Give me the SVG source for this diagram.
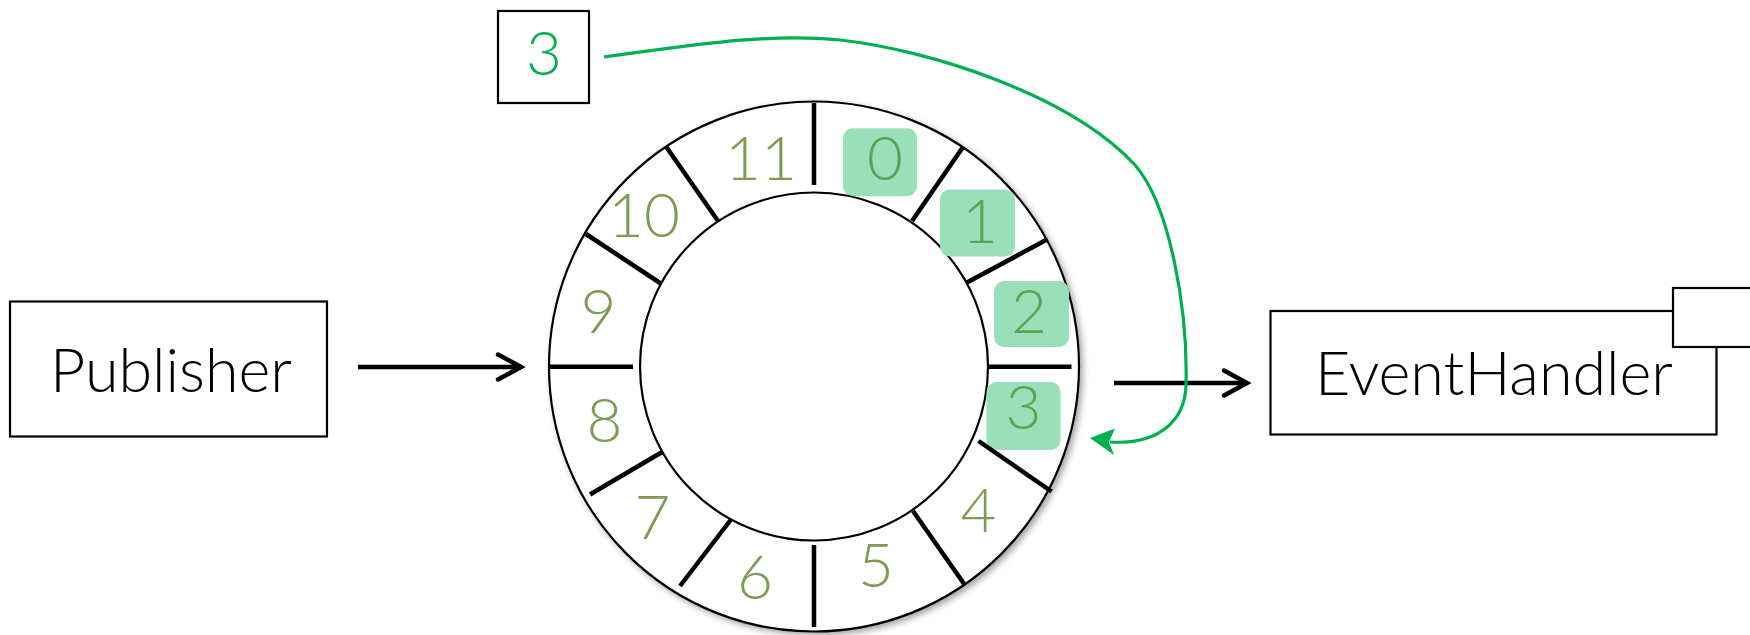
<svg xmlns="http://www.w3.org/2000/svg" width="1750" height="635" viewBox="0 0 1750 635">
<style>
.box{fill:#fff;stroke:#000;stroke-width:2.2}
.lbl{font-family:Lato,"Open Sans","Liberation Sans",sans-serif;font-weight:300;font-size:61px;fill:#000;text-anchor:middle}
.num{font-family:Lato,"Open Sans","Liberation Sans",sans-serif;font-weight:300;font-size:62px;fill:#7F9A55;text-anchor:middle}
.hnum{fill:#55A555}
.hl{fill:#99DFB9}
.div{stroke:#000;stroke-width:4.5}
.arr{stroke:#000;stroke-width:4.5;fill:none}
</style>
<defs>
<marker id="chev" markerUnits="userSpaceOnUse" markerWidth="40" markerHeight="40" viewBox="-30 -20 40 40" refX="0" refY="0" orient="auto">
<path d="M-23,-12.5 L0,0 L-23,12.5" fill="none" stroke="#000" stroke-width="4.5" stroke-linecap="round" stroke-linejoin="miter"/>
</marker>
<filter id="sh" x="-10%" y="-10%" width="125%" height="125%">
<feDropShadow dx="3" dy="3" stdDeviation="3" flood-color="#000" flood-opacity="0.35"/>
</filter>
</defs>

<g id="publisher">
<rect class="box" x="10" y="301.5" width="317" height="135"/>
<text class="lbl" x="171" y="392">Publisher</text>
</g>

<g id="ring">
<circle cx="814" cy="366.5" r="265" fill="#fff" stroke="#000" stroke-width="2.2" filter="url(#sh)"/>
<circle cx="814" cy="366.5" r="174" fill="#fff" stroke="#000" stroke-width="2.2"/>
<rect class="hl" x="843" y="128.3" width="74" height="68" rx="10"/>
<rect class="hl" x="940" y="189.5" width="75" height="67" rx="10"/>
<rect class="hl" x="994" y="281" width="75" height="66" rx="10"/>
<rect class="hl" x="986.5" y="382" width="74" height="68" rx="10"/>
<line class="div" x1="814" y1="103" x2="814" y2="185"/>
<line class="div" x1="963" y1="147" x2="912" y2="221"/>
<line class="div" x1="1047" y1="239.5" x2="966" y2="283"/>
<line class="div" x1="988" y1="366.7" x2="1071.5" y2="366.7"/>
<line class="div" x1="978.5" y1="441" x2="1051.5" y2="491.5"/>
<line class="div" x1="913" y1="511" x2="964.5" y2="584.5"/>
<line class="div" x1="814" y1="545" x2="814" y2="627"/>
<line class="div" x1="731" y1="519.5" x2="680" y2="586"/>
<line class="div" x1="663" y1="451.5" x2="590" y2="494.5"/>
<line class="div" x1="549" y1="366.7" x2="633" y2="366.7"/>
<line class="div" x1="660.8" y1="283.5" x2="586" y2="234"/>
<line class="div" x1="718" y1="221" x2="666" y2="146.5"/>
<text class="num hnum" x="885" y="180">0</text>
<text class="num hnum" x="980" y="243">1</text>
<text class="num hnum" x="1029" y="333">2</text>
<text class="num hnum" x="1023.5" y="429">3</text>
<text class="num" x="978.5" y="532">4</text>
<text class="num" x="876" y="587">5</text>
<text class="num" x="755" y="599">6</text>
<text class="num" x="652.5" y="539">7</text>
<text class="num" x="604.5" y="442">8</text>
<text class="num" x="598.5" y="333">9</text>
<text class="num" x="644" y="237">10</text>
<text class="num" x="761" y="180">11</text>
</g>

<g id="sequence">
<rect class="box" x="498" y="11" width="91" height="92"/>
<text class="num" style="fill:#00B050" x="544" y="75">3</text>
</g>

<g id="eventhandler">
<rect class="box" x="1270.5" y="311" width="446" height="123.5"/>
<text class="lbl" x="1494" y="395">EventHandler</text>
<rect class="box" x="1673" y="288" width="100" height="59"/>
</g>

<g id="connectors">
<line class="arr" x1="358" y1="367" x2="521" y2="367" marker-end="url(#chev)"/>
<line class="arr" x1="1114" y1="383" x2="1247" y2="383" marker-end="url(#chev)"/>
<path d="M604,57 C700,44 770,33 840,40 C930,50 1070,95 1135,165 C1170,205 1188,310 1186,385 C1185,420 1160,445 1110,442" fill="none" stroke="#00B050" stroke-width="3.2"/>
<polygon points="1090,438 1115,428.5 1109,442 1114,455" fill="#00B050"/>
</g>
</svg>
